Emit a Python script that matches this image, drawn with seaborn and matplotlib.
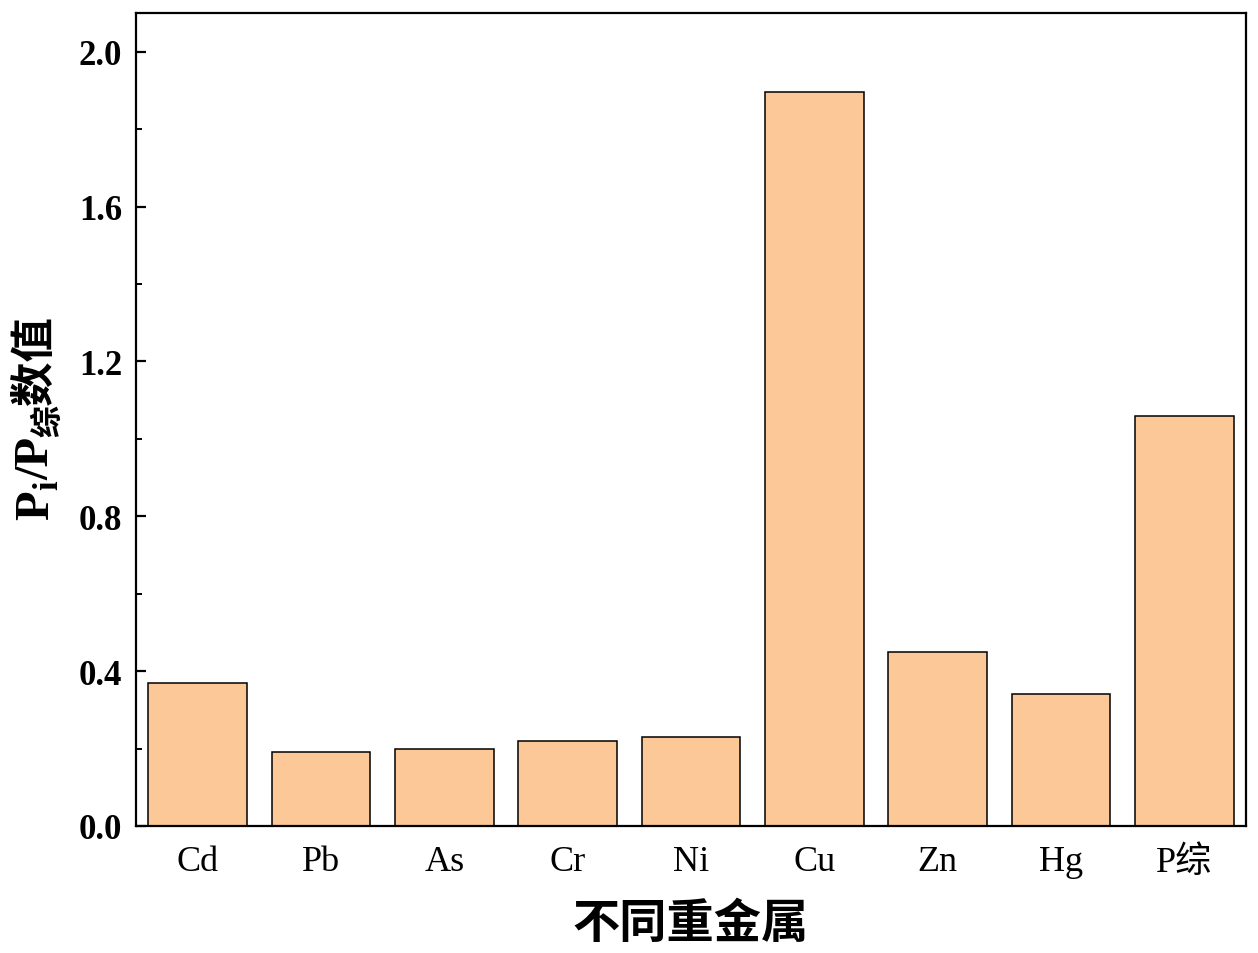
import matplotlib
matplotlib.use("Agg")
import matplotlib.pyplot as plt
import matplotlib.transforms as mtransforms
import pandas as pd
import seaborn as sns

metals = ["Cd", "Pb", "As", "Cr", "Ni", "Cu", "Zn", "Hg", "P综"]
values = [0.37, 0.19, 0.20, 0.22, 0.23, 1.895, 0.45, 0.34, 1.06]
yticks = [0.0, 0.4, 0.8, 1.2, 1.6, 2.0]

BAR_COLOR = "#FDC897"
SERIF = ["Liberation Serif", "Noto Sans CJK SC"]
CJK = ["Noto Sans CJK SC", "Liberation Serif"]

sns.set_theme(style="ticks")
plt.rcParams["font.family"] = SERIF
plt.rcParams["text.color"] = "black"
plt.rcParams["axes.labelcolor"] = "black"
plt.rcParams["xtick.color"] = "black"
plt.rcParams["ytick.color"] = "black"

df = pd.DataFrame({"metal": metals, "value": values})

fig = plt.figure(figsize=(12.58, 9.54), dpi=100)
ax = fig.add_axes([136 / 1258, 1 - 827 / 954, 1110 / 1258, 813 / 954])

sns.barplot(data=df, x="metal", y="value", color=BAR_COLOR, saturation=1,
            width=0.8, edgecolor="black", linewidth=1.1, ax=ax)

ax.set_xlim(-0.5, len(metals) - 0.5)
ax.set_ylim(0, 2.1)
ax.set_yticks(yticks)
ax.set_yticklabels([f"{t:.1f}" for t in yticks], fontweight="bold", fontsize=25)
ax.set_yticks([0.2, 0.6, 1.0, 1.4, 1.8], minor=True)
ax.set_xticks(range(len(metals)))
ax.set_xticklabels(metals, fontsize=26, family=SERIF)
ax.tick_params(axis="both", which="major", direction="in", width=1.6, length=7, pad=10)
ax.tick_params(axis="x", length=9, pad=14)
ax.tick_params(axis="y", which="minor", direction="in", width=1.4, length=4)
ax.tick_params(top=False, right=False)
for s in ax.spines.values():
    s.set_visible(True)
    s.set_linewidth(1.6)
    s.set_color("black")

ax.set_xlabel("不同重金属", family=CJK, fontsize=34, fontweight="bold", labelpad=14)
ax.set_ylabel("")

# y label built from pieces (subscripts with CJK text)
fig.canvas.draw()
r = fig.canvas.get_renderer()
pieces = [
    ("P", 35, 0, SERIF),
    ("i", 25, 9, SERIF),
    ("/P", 35, 0, SERIF),
    ("综", 23, 9, CJK),
    ("数值", 32, 0, CJK),
]
ident = mtransforms.IdentityTransform()
base_x = 48
texts = []
for s, size, dx, fam in pieces:
    t = fig.text(base_x + dx, 0, s, rotation=90, rotation_mode="anchor",
                 ha="left", va="baseline", fontsize=size, fontweight="bold",
                 family=fam, transform=ident, color="black")
    texts.append(t)
lengths = [t.get_window_extent(r).height for t in texts]
total = sum(lengths)
y = (954 - 418) - total / 2
for t, l in zip(texts, lengths):
    t.set_y(y)
    y += l

fig.savefig("out.png", dpi=100)
